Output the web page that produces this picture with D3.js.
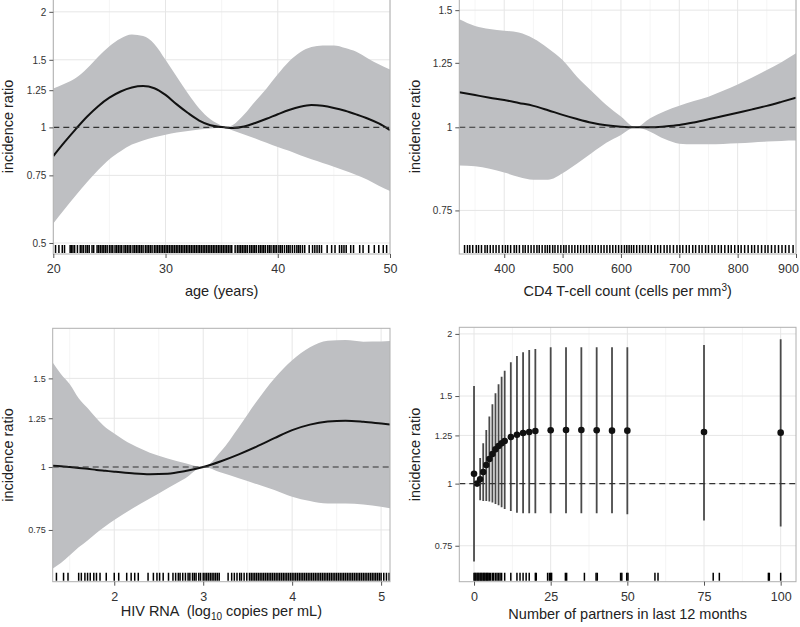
<!DOCTYPE html>
<html>
<head>
<meta charset="utf-8">
<script src="https://cdn.jsdelivr.net/npm/d3@7"></script>
<style>
  html, body { margin: 0; padding: 0; background: #fff; }
  svg { display: block; }
  text { font-family: "Liberation Sans", Arial, sans-serif; }
</style>
</head>
<body>
<svg id="chart" width="800" height="627"></svg>
<script>
// ---------------- DATA ----------------
// Panel A: age
const ageX     = [20,21,22,23,24,25,26,27,28,29,30,31,32,33,34,35,35.3,36,37,38,39,40,41,42,43,44,45,46,47,48,49,50];
const ageFit   = [0.842,0.915,0.99,1.066,1.136,1.195,1.24,1.27,1.281,1.265,1.215,1.148,1.09,1.042,1.013,1.002,1.0,0.996,1.005,1.027,1.053,1.082,1.11,1.132,1.143,1.138,1.124,1.105,1.081,1.055,1.024,0.984];
const ageUpper = [1.263,1.30,1.345,1.424,1.528,1.628,1.705,1.745,1.729,1.65,1.50,1.355,1.225,1.12,1.05,1.01,1.0,1.015,1.08,1.17,1.263,1.375,1.485,1.57,1.62,1.635,1.634,1.61,1.574,1.515,1.46,1.416];
const ageLower = [0.562,0.612,0.665,0.72,0.774,0.826,0.867,0.902,0.925,0.943,0.957,0.97,0.979,0.987,0.993,0.999,1.0,0.982,0.959,0.936,0.912,0.889,0.869,0.846,0.826,0.808,0.79,0.771,0.752,0.731,0.705,0.683];
const ageRug = [20.2,20.5,20.8,21.0,21.5,21.6,21.75,21.9,22.15,22.4,22.55,22.7,22.9,23.05,23.2,23.45,23.6,23.9,24.05,24.2,24.35,24.5,24.65,24.8,25.0,25.15,25.3,25.5,25.65,25.8,25.95,26.1,26.3,26.45,26.6,26.75,26.9,27.1,27.25,27.4,27.55,27.7,27.85,28.0,28.2,28.35,28.5,28.65,28.8,29.0,29.15,29.3,29.45,29.6,29.75,29.9,30.05,30.2,30.35,30.5,30.65,30.8,30.95,31.1,31.25,31.4,31.55,31.7,31.85,32.0,32.15,32.3,32.45,32.6,32.75,32.9,33.05,33.2,33.35,33.5,33.65,33.8,33.95,34.1,34.25,34.4,34.55,34.7,34.85,35.0,35.15,35.3,35.45,35.6,35.75,35.9,36.2,36.4,36.55,36.7,36.85,37.0,37.15,37.3,37.5,37.65,37.8,37.95,38.1,38.3,38.45,38.6,38.75,38.9,39.1,39.25,39.4,39.6,39.75,39.9,40.1,40.25,40.4,40.6,40.8,40.95,41.1,41.3,41.5,41.7,41.85,42.0,42.2,42.4,42.8,43.1,43.3,43.5,43.7,43.9,44.4,44.8,45.1,45.5,45.7,45.9,46.1,46.5,46.75,47.3,47.6,48.1,48.6,49.0,49.4,49.7];

// Panel B: CD4 T-cell count
const cd4X     = [323,350,375,400,425,450,475,500,525,550,575,600,625,650,675,700,725,750,775,800,825,850,875,900];
const cd4Fit   = [1.129,1.118,1.108,1.099,1.088,1.077,1.061,1.044,1.029,1.016,1.007,1.002,1.0,1.0,1.003,1.008,1.017,1.028,1.04,1.052,1.064,1.077,1.092,1.108];
const cd4Upper = [1.453,1.42,1.405,1.397,1.388,1.36,1.315,1.262,1.19,1.133,1.08,1.038,1.0,1.032,1.057,1.077,1.095,1.112,1.135,1.16,1.188,1.219,1.253,1.292];
const cd4Lower = [0.876,0.874,0.866,0.855,0.842,0.834,0.834,0.853,0.882,0.915,0.948,0.974,1.0,0.985,0.96,0.945,0.943,0.943,0.944,0.946,0.949,0.952,0.954,0.955];
const cd4Rug = [332,337,341,346,352,356,361,367,371,376,381,386,391,397,402,406,411,417,421,426,432,436,441,446,451,456,460,465,470,474,478,483,487,492,497,502,506,511,516,521,526,531,536,541,546,551,556,561,566,571,576,581,586,591,596,601,606,610,614,618,622,627,632,637,642,647,652,658,663,668,674,679,684,690,696,701,706,712,717,723,728,734,739,745,750,756,761,767,772,778,784,789,795,801,806,812,818,824,829,835,841,847,852,858,864,870,876,882,888,895];

// Panel C: HIV RNA
const rnaX     = [1.31,1.4,1.5,1.6,1.7,1.8,1.9,2.0,2.2,2.4,2.6,2.8,3.0,3.2,3.4,3.6,3.8,4.0,4.2,4.4,4.6,4.8,5.0,5.1];
const rnaFit   = [1.006,1.004,1.0,0.996,0.992,0.987,0.983,0.979,0.972,0.968,0.97,0.982,1.0,1.027,1.06,1.098,1.141,1.184,1.214,1.231,1.236,1.23,1.22,1.215];
const rnaUpper = [1.611,1.53,1.46,1.37,1.31,1.25,1.2,1.166,1.108,1.068,1.04,1.018,1.0,1.075,1.2,1.35,1.50,1.63,1.73,1.782,1.787,1.774,1.775,1.779];
const rnaLower = [0.629,0.645,0.668,0.693,0.715,0.74,0.763,0.785,0.826,0.866,0.908,0.95,1.0,0.975,0.95,0.925,0.9,0.873,0.856,0.846,0.846,0.843,0.834,0.828];
const rnaRug = [1.35,1.43,1.48,1.6,1.63,1.67,1.7,1.73,1.77,1.8,1.84,1.91,2.0,2.05,2.14,2.19,2.23,2.27,2.38,2.44,2.48,2.51,2.55,2.61,2.66,2.69,2.72,2.74,2.77,2.8,2.83,2.85,2.88,2.9,2.92,2.95,2.97,3.0,3.02,3.04,3.06,3.08,3.1,3.12,3.14,3.16,3.18,3.28,3.32,3.35,3.38,3.41,3.43,3.46,3.49,3.52,3.54,3.56,3.58,3.6,3.62,3.64,3.66,3.68,3.7,3.72,3.74,3.76,3.78,3.8,3.82,3.84,3.86,3.88,3.9,3.92,3.94,3.96,3.98,4.0,4.02,4.04,4.06,4.08,4.1,4.12,4.14,4.16,4.18,4.2,4.22,4.24,4.26,4.28,4.3,4.32,4.34,4.36,4.38,4.4,4.42,4.44,4.46,4.48,4.5,4.52,4.54,4.56,4.58,4.6,4.62,4.64,4.66,4.68,4.7,4.72,4.74,4.76,4.78,4.8,4.82,4.84,4.86,4.88,4.9,4.92,4.94,4.96,4.98,5.0,5.03,5.06,5.09];

// Panel D: number of partners
const partnersX   = [0,1,2,3,4,5,6,7,8,9,10,12,14,16,18,20,25,30,35,40,45,50,75,100];
const partnersEst = [1.047,1.0,1.020,1.055,1.090,1.121,1.147,1.172,1.190,1.205,1.218,1.241,1.254,1.264,1.270,1.276,1.280,1.282,1.282,1.280,1.278,1.278,1.270,1.266];
const partnersLo  = [0.697,null,0.926,0.923,0.923,0.920,0.916,0.910,0.905,0.896,0.889,0.881,0.874,0.872,0.872,0.872,0.872,0.872,0.872,0.872,0.872,0.868,0.843,0.820];
const partnersHi  = [1.572,null,1.126,1.205,1.282,1.364,1.444,1.519,1.584,1.641,1.687,1.754,1.806,1.837,1.857,1.865,1.880,1.880,1.880,1.880,1.880,1.880,1.900,1.951];
const partnersRug = [0,0.3,0.6,1,1.3,1.6,2,2.3,2.6,3,3.3,3.6,4,4.3,4.6,5,5.4,6,6.4,7,7.5,8,8.5,9,10,12,14,15,16,17,18,20,20.3,24,24.6,25,25.3,29.8,30.2,36,39.8,40.2,47.8,48.2,49.8,50.2,59,60,78,80,96,96.3,100];

// tick labels
const ageXTicks = [20,30,40,50];
const cd4XTicks = [400,500,600,700,800,900];
const rnaXTicks = [2,3,4,5];
const partnersXTicks = [0,25,50,75,100];
const yTicksA = [0.5,0.75,1,1.25,1.5,2];
const yTicksB = [0.75,1,1.25,1.5];
const yTicksC = [0.75,1,1.25,1.5];
const yTicksD = [0.75,1,1.25,1.5,2];
const yLabel = "incidence ratio";

// ---------------- DRAWING ----------------
const svg = d3.select("#chart");
svg.append("rect").attr("width",800).attr("height",627).attr("fill","#fff");

let clipId = 0;
function panel(cfg) {
  const x = d3.scaleLinear().domain(cfg.xDomain).range([cfg.left, cfg.right]);
  const y = d3.scaleLog().domain(cfg.yDomain).range([cfg.bottom, cfg.top]);
  const g = svg.append("g");
  const id = "clip" + (clipId++);
  g.append("clipPath").attr("id", id).append("rect")
    .attr("x", cfg.left).attr("y", cfg.top)
    .attr("width", cfg.right - cfg.left).attr("height", cfg.bottom - cfg.top);

  // minor grid
  g.append("g").selectAll("line").data(cfg.xMinor).join("line")
    .attr("x1", d => x(d)).attr("x2", d => x(d))
    .attr("y1", cfg.top).attr("y2", cfg.bottom)
    .attr("stroke", "#f3f3f3").attr("stroke-width", 0.8);
  // major grid
  g.append("g").selectAll("line").data(cfg.xTicks).join("line")
    .attr("x1", d => x(d)).attr("x2", d => x(d))
    .attr("y1", cfg.top).attr("y2", cfg.bottom)
    .attr("stroke", "#e6e6e6").attr("stroke-width", 1);
  g.append("g").selectAll("line").data(cfg.yTicks).join("line")
    .attr("x1", cfg.left).attr("x2", cfg.right)
    .attr("y1", d => y(d)).attr("y2", d => y(d))
    .attr("stroke", "#e6e6e6").attr("stroke-width", 1);

  const inner = g.append("g").attr("clip-path", `url(#${id})`);
  cfg.draw(inner, x, y);

  // reference line
  inner.append("line")
    .attr("x1", cfg.left).attr("x2", cfg.right)
    .attr("y1", y(1)).attr("y2", y(1))
    .attr("stroke", "#333").attr("stroke-width", 1.1)
    .attr("stroke-dasharray", "6,4");

  // rug
  inner.append("g").selectAll("line").data(cfg.rug).join("line")
    .attr("x1", d => x(d)).attr("x2", d => x(d))
    .attr("y1", cfg.bottom - 9).attr("y2", cfg.bottom - 1)
    .attr("stroke", "#000").attr("stroke-width", 1.5);

  // border
  g.append("rect")
    .attr("x", cfg.left).attr("y", cfg.top)
    .attr("width", cfg.right - cfg.left).attr("height", cfg.bottom - cfg.top)
    .attr("fill", "none").attr("stroke", "#b0b0b0").attr("stroke-width", 1);

  // axes
  const yAxis = g.append("g").attr("transform", `translate(${cfg.left},0)`)
    .call(d3.axisLeft(y).tickValues(cfg.yTicks).tickFormat(d => String(d)).tickSize(4).tickPadding(3));
  yAxis.select(".domain").remove();
  yAxis.selectAll(".tick line").attr("stroke", "#555");
  yAxis.selectAll(".tick text").attr("fill", "#333").attr("font-size", cfg.yFont)
    .attr("font-family", '"Liberation Sans", Arial, sans-serif');

  const xAxis = g.append("g").attr("transform", `translate(0,${cfg.bottom})`)
    .call(d3.axisBottom(x).tickValues(cfg.xTicks).tickFormat(d => String(d)).tickSize(4).tickPadding(6));
  xAxis.select(".domain").remove();
  xAxis.selectAll(".tick line").attr("stroke", "#555");
  xAxis.selectAll(".tick text").attr("fill", "#333").attr("font-size", 12.5)
    .attr("font-family", '"Liberation Sans", Arial, sans-serif')
    .each(function() {
      // keep labels that sit on the right edge inside the picture
      const bb = this.getBBox();
      const ctm = this.getCTM();
      const right = ctm.e + bb.x + bb.width;
      if (right > 799) d3.select(this).attr("dx", (799 - right) + "px");
    });

  // y title
  g.append("text")
    .attr("transform", `translate(${cfg.yTitleX},${(cfg.top + cfg.bottom) / 2}) rotate(-90)`)
    .attr("text-anchor", "middle").attr("font-size", 14.5).attr("fill", "#222")
    .text(yLabel);

  // x title
  const t = g.append("text")
    .attr("x", (cfg.left + cfg.right) / 2).attr("y", cfg.xTitleY)
    .attr("text-anchor", "middle").attr("font-size", 14.5).attr("fill", "#222")
    .attr("xml:space", "preserve").style("white-space", "pre");
  cfg.xTitle(t);
}

function bandDraw(xs, fit, lo, hi) {
  return (g, x, y) => {
    const idx = d3.range(xs.length);
    g.append("path").datum(idx)
      .attr("d", d3.area().curve(d3.curveMonotoneX)
        .x(i => x(xs[i])).y0(i => y(lo[i])).y1(i => y(hi[i])))
      .attr("fill", "#bebfc2");
    g.append("path").datum(idx)
      .attr("d", d3.line().curve(d3.curveMonotoneX).x(i => x(xs[i])).y(i => y(fit[i])))
      .attr("fill", "none").attr("stroke", "#111").attr("stroke-width", 2);
  };
}

// Panel A
panel({
  left: 53.3, right: 390, top: -1, bottom: 254,
  xDomain: [20, 50], yDomain: [0.468, 2.16],
  xTicks: ageXTicks, xMinor: [25, 35, 45], yTicks: yTicksA, yFont: 10,
  rug: ageRug, yTitleX: 13, xTitleY: 296,
  draw: bandDraw(ageX, ageFit, ageLower, ageUpper),
  xTitle: t => t.text("age (years)")
});

// Panel B
panel({
  left: 459.3, right: 796, top: -1, bottom: 254,
  xDomain: [323, 900], yDomain: [0.645, 1.559],
  xTicks: cd4XTicks, xMinor: [350, 450, 550, 650, 750, 850], yTicks: yTicksB, yFont: 10,
  rug: cd4Rug, yTitleX: 420, xTitleY: 296,
  draw: bandDraw(cd4X, cd4Fit, cd4Lower, cd4Upper),
  xTitle: t => {
    t.append("tspan").text("CD4 T-cell count (cells per mm");
    t.append("tspan").attr("dy", -5).attr("font-size", 10).text("3");
    t.append("tspan").attr("dy", 5).text(")");
  }
});

// Panel C
panel({
  left: 52.7, right: 390, top: 328.3, bottom: 581.7,
  xDomain: [1.308, 5.10], yDomain: [0.592, 1.886],
  xTicks: rnaXTicks, xMinor: [1.5, 2.5, 3.5, 4.5], yTicks: yTicksC, yFont: 9,
  rug: rnaRug, yTitleX: 13, xTitleY: 616,
  draw: bandDraw(rnaX, rnaFit, rnaLower, rnaUpper),
  xTitle: t => {
    t.append("tspan").text("HIV RNA  (log");
    t.append("tspan").attr("dy", 4).attr("font-size", 10).text("10");
    t.append("tspan").attr("dy", -4).text(" copies per mL)");
  }
});

// Panel D
panel({
  left: 459.3, right: 796, top: 327.3, bottom: 581.7,
  xDomain: [-4.8, 105], yDomain: [0.635, 2.062],
  xTicks: partnersXTicks, xMinor: [12.5, 37.5, 62.5, 87.5], yTicks: yTicksD, yFont: 9,
  rug: partnersRug, yTitleX: 420, xTitleY: 619,
  draw: (g, x, y) => {
    const idx = d3.range(partnersX.length).filter(i => partnersLo[i] !== null);
    g.append("g").selectAll("line").data(idx).join("line")
      .attr("x1", i => x(partnersX[i])).attr("x2", i => x(partnersX[i]))
      .attr("y1", i => y(partnersLo[i])).attr("y2", i => y(partnersHi[i]))
      .attr("stroke", "#4a4a4a").attr("stroke-width", 1.8);
    g.append("g").selectAll("circle").data(d3.range(partnersX.length)).join("circle")
      .attr("cx", i => x(partnersX[i])).attr("cy", i => y(partnersEst[i]))
      .attr("r", 3.3).attr("fill", "#111");
  },
  xTitle: t => t.text("Number of partners in last 12 months")
});
</script>
</body>
</html>
